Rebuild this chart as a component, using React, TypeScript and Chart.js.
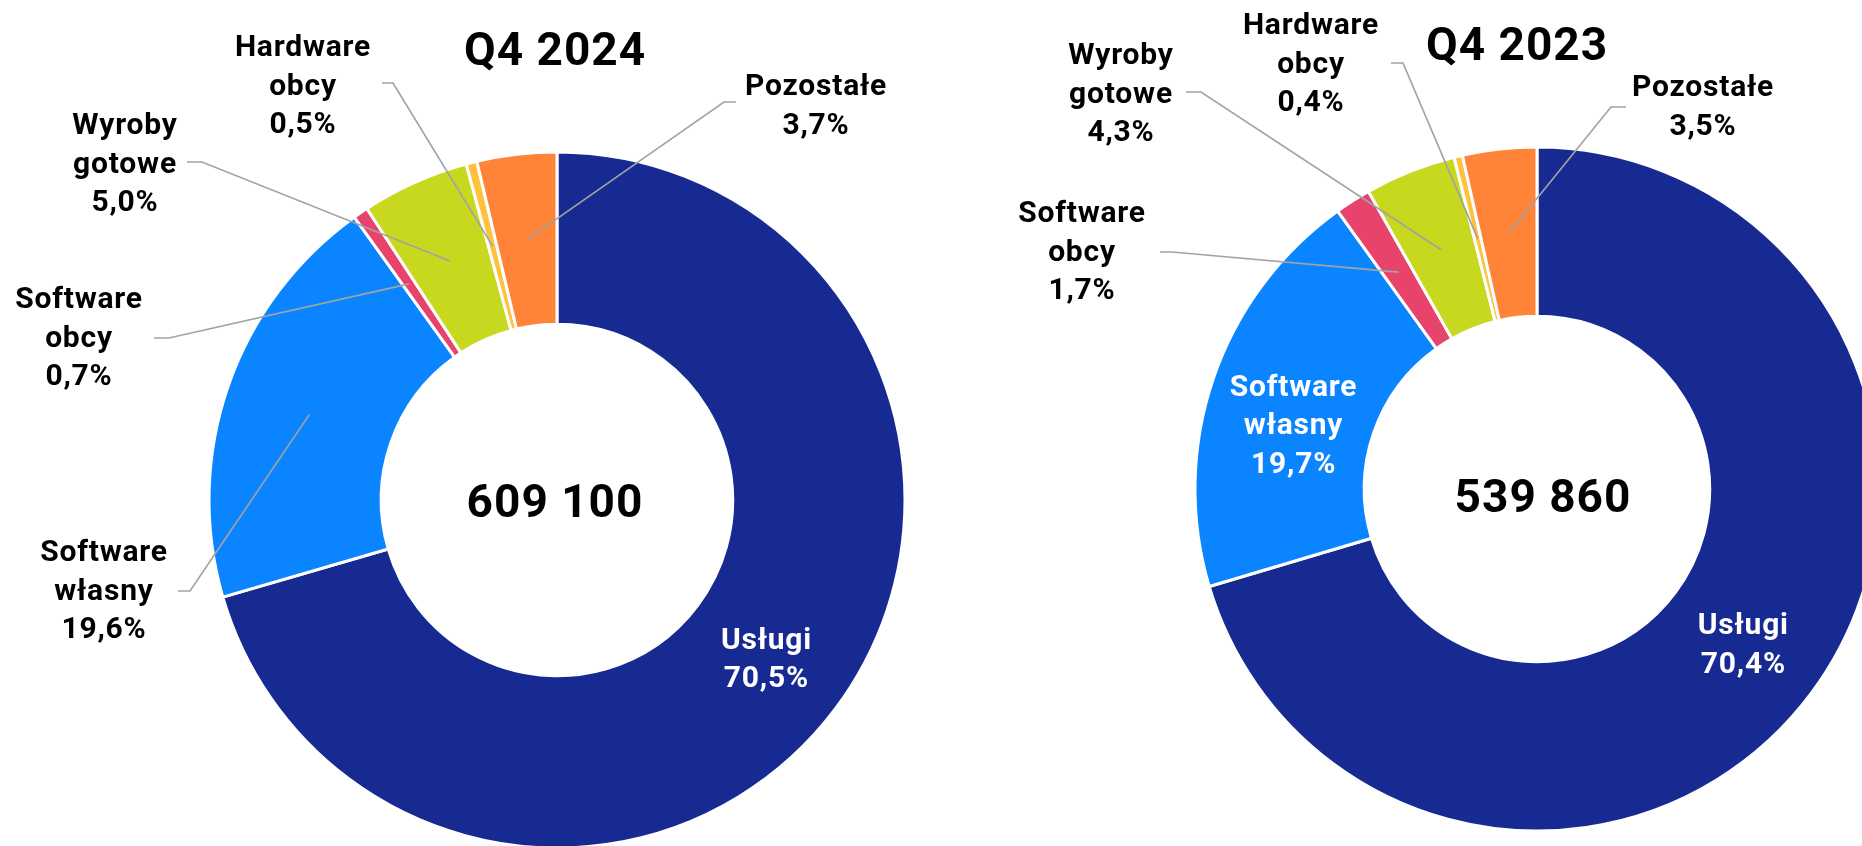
import React, { useEffect, useRef } from "react";
import { Chart, registerables } from "chart.js";

Chart.register(...registerables);

// ---- data ----
const categories = ["Usługi", "Software własny", "Software obcy", "Wyroby gotowe", "Hardware obcy", "Pozostałe"];
const share2024 = [70.5, 19.6, 0.7, 5.0, 0.5, 3.7];
const share2023 = [70.4, 19.7, 1.7, 4.3, 0.4, 3.5];
const periods = ["Q4 2024", "Q4 2023"];
const totals = ["609 100", "539 860"];

// ---- styles ----
const sliceColors = ["#172A92", "#0A85FF", "#E8436A", "#C8D81E", "#FFC23C", "#FF8438"];
const W = 1862;
const H = 846;
const FONT = "Roboto, 'Noto Sans', sans-serif";
const LABEL_SIZE = 30;
const LINE_H = 38.5;

type LabelLayout = {
  inside?: boolean;
  dy?: number;
  x?: number;
  y0?: number;
  sx?: number;
  sy?: number;
  elbow?: number;
};

type PanelLayout = {
  cx: number;
  cy: number;
  radius: number;
  title: { dx: number; base: number };
  total: { dx: number; base: number };
  labels: LabelLayout[];
};

const layout2024: PanelLayout = {
  cx: 557,
  cy: 500,
  radius: 348,
  title: { dx: -2, base: -435 },
  total: { dx: -2, base: 17 },
  labels: [
    { inside: true, dy: 0 },
    { x: -453, y0: 61, sx: -379, sy: 91, elbow: 12 },
    { x: -478, y0: -192, sx: -403, sy: -162, elbow: 15 },
    { x: -432, y0: -366, sx: -370, sy: -338, elbow: 15 },
    { x: -254, y0: -444, sx: -175, sy: -417, elbow: 11 },
    { x: 259, y0: -405, sx: 179, sy: -398, elbow: -12 },
  ],
};

const layout2023: PanelLayout = {
  cx: 1537,
  cy: 489,
  radius: 342,
  title: { dx: -20, base: -429 },
  total: { dx: 6, base: 23 },
  labels: [
    { inside: true, dy: 0 },
    { inside: true, dy: 18 },
    { x: -455, y0: -267, sx: -377, sy: -237, elbow: 12 },
    { x: -416, y0: -425, sx: -351, sy: -397, elbow: 15 },
    { x: -226, y0: -455, sx: -146, sy: -426, elbow: 12 },
    { x: 166, y0: -393, sx: 89, sy: -382, elbow: -15 },
  ],
};

const fmtPct = (v: number) => v.toFixed(1).replace(".", ",") + "%";

function Panel({ values, title, total, lay }: { values: number[]; title: string; total: string; lay: PanelLayout }) {
  const ref = useRef<HTMLCanvasElement | null>(null);
  useEffect(() => {
    if (!ref.current) return;
    const annot = {
      id: "annot",
      afterDraw(chart: any) {
        const ctx: CanvasRenderingContext2D = chart.ctx;
        const meta = chart.getDatasetMeta(0);
        const a0 = meta.data[0] as any;
        const cx = a0.x;
        const cy = a0.y;
        const centerOf = (i: number) => {
          const a = meta.data[i] as any;
          const p = a.getProps(["x", "y", "startAngle", "endAngle", "innerRadius", "outerRadius"], true);
          const mid = (p.startAngle + p.endAngle) / 2;
          const r = (p.innerRadius + p.outerRadius) / 2;
          return { x: p.x + Math.cos(mid) * r, y: p.y + Math.sin(mid) * r };
        };
        ctx.save();
        // leader lines
        ctx.strokeStyle = "#A3A3A3";
        ctx.lineWidth = 1.7;
        lay.labels.forEach((L, i) => {
          if (L.inside) return;
          const p = centerOf(i);
          const sx = cx + (L.sx as number);
          const sy = cy + (L.sy as number);
          ctx.beginPath();
          ctx.moveTo(sx, sy);
          ctx.lineTo(sx + (L.elbow as number), sy);
          ctx.lineTo(p.x, p.y);
          ctx.stroke();
        });
        // labels
        ctx.textAlign = "center";
        ctx.textBaseline = "alphabetic";
        (ctx as any).letterSpacing = "0.8px";
        ctx.font = `bold ${LABEL_SIZE}px ${FONT}`;
        lay.labels.forEach((L, i) => {
          const lines = [...categories[i].split(" "), fmtPct(values[i])];
          if (L.inside) {
            const p = centerOf(i);
            const mid = p.y + (L.dy || 0);
            ctx.fillStyle = "#FFFFFF";
            lines.forEach((t, k) => {
              const lc = mid + (k - (lines.length - 1) / 2) * LINE_H;
              ctx.fillText(t, p.x, lc + LABEL_SIZE * 0.355);
            });
          } else {
            ctx.fillStyle = "#000000";
            lines.forEach((t, k) => {
              ctx.fillText(t, cx + (L.x as number), cy + (L.y0 as number) + k * LINE_H);
            });
          }
        });
        // title
        ctx.fillStyle = "#000000";
        (ctx as any).letterSpacing = "1px";
        ctx.font = `bold 46px ${FONT}`;
        ctx.fillText(title, cx + lay.title.dx, cy + lay.title.base);
        // total in the hole
        ctx.font = `bold 46px ${FONT}`;
        ctx.fillText(total, cx + lay.total.dx, cy + lay.total.base);
        ctx.restore();
      },
    };
    const chart = new Chart(ref.current, {
      type: "doughnut",
      data: {
        labels: categories,
        datasets: [
          {
            data: values,
            backgroundColor: sliceColors,
            borderColor: "#FFFFFF",
            borderWidth: 3,
            hoverOffset: 0,
          },
        ],
      },
      options: {
        responsive: false,
        animation: false,
        devicePixelRatio: 1,
        radius: lay.radius,
        cutout: "50.5%",
        rotation: 0,
        layout: {
          padding: {
            left: Math.max(0, 2 * lay.cx - W),
            right: Math.max(0, W - 2 * lay.cx),
            top: Math.max(0, 2 * lay.cy - H),
            bottom: Math.max(0, H - 2 * lay.cy),
          },
        },
        plugins: {
          legend: { display: false },
          tooltip: { enabled: false },
        },
        events: [],
      } as any,
      plugins: [annot],
    });
    return () => chart.destroy();
  }, [values, title, total, lay]);
  return (
    <canvas
      ref={ref}
      width={W}
      height={H}
      style={{ position: "absolute", left: 0, top: 0, width: W, height: H }}
    />
  );
}

export default function App() {
  return (
    <div
      style={{
        position: "fixed",
        left: 0,
        top: 0,
        width: W,
        height: H,
        overflow: "hidden",
        background: "#FFFFFF",
      }}
    >
      <Panel values={share2024} title={periods[0]} total={totals[0]} lay={layout2024} />
      <Panel values={share2023} title={periods[1]} total={totals[1]} lay={layout2023} />
    </div>
  );
}
